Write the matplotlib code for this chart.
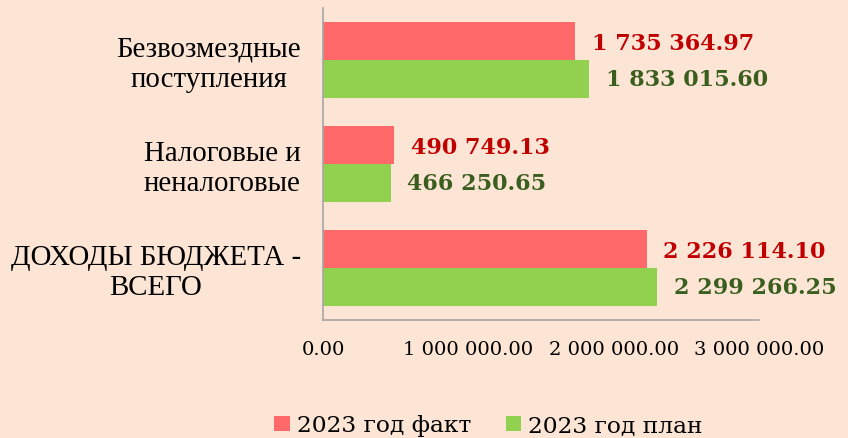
import matplotlib
matplotlib.use("Agg")
import matplotlib.pyplot as plt
import numpy as np

categories = ["ДОХОДЫ БЮДЖЕТА -\nВСЕГО", "Налоговые и\nненалоговые", "Безвозмездные\nпоступления"]
fact = [2226114.10, 490749.13, 1735364.97]
plan = [2299266.25, 466250.65, 1833015.60]
series_names = ["2023 год факт", "2023 год план"]
xticks = [0, 1000000, 2000000, 3000000]
xtick_labels = ["0.00", "1 000 000.00", "2 000 000.00", "3 000 000.00"]

def fmt(v):
    s = f"{v:,.2f}".replace(",", " ")
    return s

bg = "#FDE5D5"
red = "#FF6969"
green = "#92D050"
red_txt = "#C00000"
green_txt = "#3A5E1E"

fig = plt.figure(figsize=(8.48, 4.38), dpi=100, facecolor=bg)
ax = fig.add_axes([0.381, 0.269, 0.514, 0.713], facecolor=bg)

y = np.arange(len(categories))
h = 0.362
b1 = ax.barh(y + h / 2, fact, height=h, color=red, label=series_names[0])
b2 = ax.barh(y - h / 2, plan, height=h, color=green, label=series_names[1])

for bar, v in zip(b1, fact):
    ax.annotate(fmt(v), (bar.get_width(), bar.get_y() + bar.get_height() / 2),
                xytext=(12, -2), textcoords="offset points", ha="left", va="center",
                fontsize=16, fontweight="bold", family="DejaVu Serif", color=red_txt)
for bar, v in zip(b2, plan):
    ax.annotate(fmt(v), (bar.get_width(), bar.get_y() + bar.get_height() / 2),
                xytext=(12, -1), textcoords="offset points", ha="left", va="center",
                fontsize=16, fontweight="bold", family="DejaVu Serif", color=green_txt)

ax.set_xlim(0, 3000000)
ax.set_ylim(-0.5, 2.5)
ax.set_xticks(xticks)
ax.set_xticklabels(xtick_labels, family="DejaVu Serif", fontsize=14)
ax.set_yticks(y)
ax.set_yticklabels(categories, family="Liberation Serif", fontsize=20.8, ha="right",
                   multialignment="center")
ax.tick_params(axis="x", length=0, pad=15)
ax.tick_params(axis="y", length=0, pad=16)
for s in ["top", "right"]:
    ax.spines[s].set_visible(False)
for s in ["left", "bottom"]:
    ax.spines[s].set_color("#A6A6A6")
    ax.spines[s].set_linewidth(1.2)

leg = fig.legend(handles=[b1, b2], labels=series_names, loc="lower center",
                 bbox_to_anchor=(0.576, -0.045), ncol=2, frameon=False,
                 prop={"family": "DejaVu Serif", "size": 16.8},
                 handlelength=0.65, handleheight=0.65, handletextpad=0.3, columnspacing=1.5)

fig.savefig("out.png", dpi=100, facecolor=bg)
